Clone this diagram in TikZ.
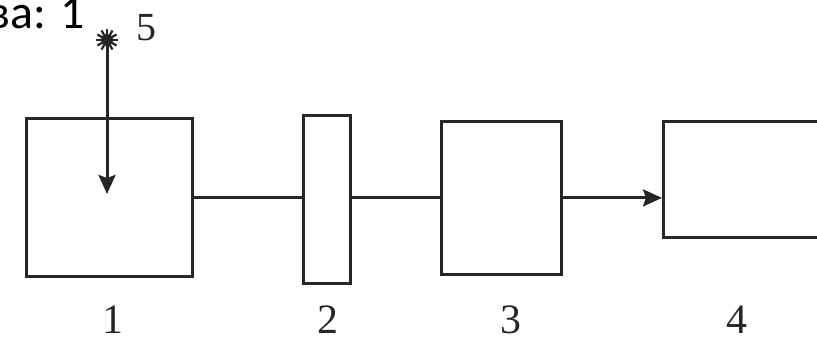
\documentclass[tikz,border=0pt]{standalone}
\usepackage{fontspec}
\setmainfont{Liberation Serif}
\newfontfamily\capfont{Carlito}
\usetikzlibrary{arrows.meta}
\begin{document}
\begin{tikzpicture}[x=1bp,y=-1bp,
  blk/.style={draw=black!85,line width=2.8bp,inner sep=0pt,anchor=north west},
  conn/.style={draw=black!85,line width=2.6bp},
  tipstyle/.style={-{Stealth[length=19bp,width=17bp,inset=3bp]}},
  lbl/.style={font=\fontsize{42}{42}\selectfont,inner sep=0pt,anchor=base,text=black!85}]
\useasboundingbox (0,0) rectangle (817,345);
\clip (0,0) rectangle (817,345);
\fill[white] (0,0) rectangle (817,345);
% boxes
\node[blk,minimum width=166bp,minimum height=158bp] (b1) at (25,117) {};
\node[blk,minimum width=47bp,minimum height=168bp] (b2) at (302,114) {};
\node[blk,minimum width=120bp,minimum height=153bp] (b3) at (440,120) {};
\node[blk,minimum width=180bp,minimum height=116bp] (b4) at (662,120) {};
% connectors
\draw[conn] (b1.east) -- (b1.east -| b2.west);
\draw[conn] (b2.east |- b1.east) -- (b1.east -| b3.west);
\draw[conn,line width=3bp,tipstyle] (b3.east) -- (b3.east -| b4.west);
% source 5
\coordinate (src) at (107,40);
\coordinate (tip) at (107,194);
\foreach \a in {0,30,...,330}{\draw[line width=2.2bp,black!85] (src) -- ++(\a:11bp);}
\fill[black!85] (src) circle (6bp);
\draw[conn,line width=3bp,tipstyle] (src) -- (tip);
% labels
\node[lbl] (l1) at (113,333) {1};
\node[lbl] (l2) at (328,333) {2};
\node[lbl] (l3) at (511,333) {3};
\node[lbl] (l4) at (737,333) {4};
\node[lbl,font=\fontsize{40}{40}\selectfont] (l5) at (146,40) {5};
\node[font=\capfont\fontsize{48}{48}\selectfont,inner sep=0pt,anchor=base east] (cap) at (85,28) {ва: 1};
\end{tikzpicture}
\end{document}
